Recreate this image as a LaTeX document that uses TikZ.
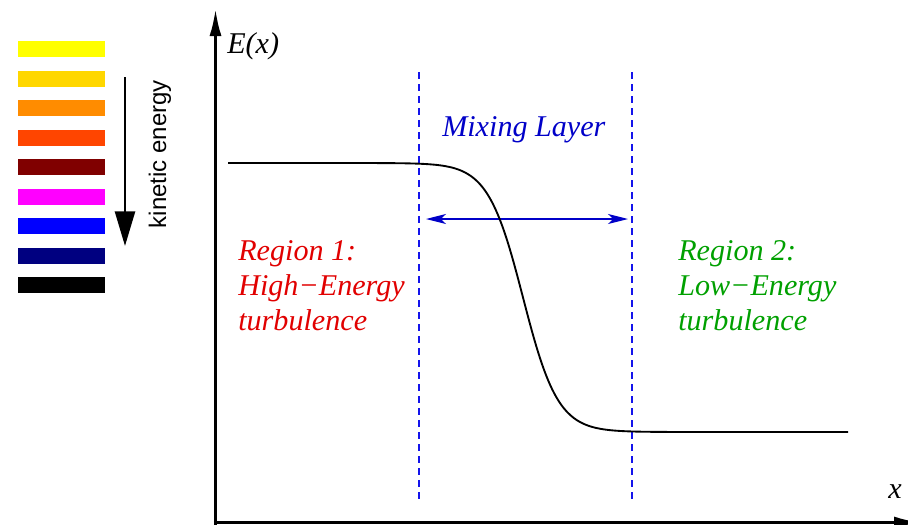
\documentclass[tikz,border=0pt]{standalone}
\usepackage{fontspec}
\setmainfont{Liberation Serif}
\setsansfont{Liberation Sans}
\usetikzlibrary{arrows.meta}
\definecolor{cyellow}{RGB}{255,255,0}
\definecolor{cgold}{RGB}{255,215,0}
\definecolor{corange}{RGB}{255,140,0}
\definecolor{cred}{RGB}{255,69,0}
\definecolor{cmaroon}{RGB}{128,0,0}
\definecolor{cmagenta}{RGB}{255,0,255}
\definecolor{cblue}{RGB}{0,0,255}
\definecolor{cnavy}{RGB}{0,0,128}
\definecolor{regred}{RGB}{225,0,0}
\definecolor{reggreen}{RGB}{0,160,0}
\definecolor{mixblue}{RGB}{0,0,200}
\definecolor{dashblue}{RGB}{20,20,235}
\begin{document}
\begin{tikzpicture}[x=0.75pt,y=-0.75pt,
  lbl/.style={inner sep=0pt,font=\fontsize{22.6}{26}\selectfont\itshape},
  axis/.style={line width=2.6pt,-{Latex[length=21pt,width=9pt]}},
  vline/.style={dashblue,line width=1.3pt,dash pattern=on 5.25pt off 3.75pt},
  bar/.style={draw=none,inner sep=0pt,minimum width=65.25pt,minimum height=12pt}]
\useasboundingbox (0,0) rectangle (908,525);
% colour bars
\foreach \c [count=\i] in {cyellow,cgold,corange,cred,cmaroon,cmagenta,cblue,cnavy,black}
  \node[bar,fill=\c,anchor=north west] (bar\i) at (18,{41+29.5*(\i-1)}) {};
% kinetic energy arrow
\coordinate (ka) at (125,77);
\coordinate (kb) at (125,246);
\draw[line width=2pt,-{Triangle[length=26pt,width=15pt]}] (ka) -- (kb);
\node[inner sep=0pt,rotate=90,anchor=base,font=\sffamily\fontsize{18}{20}\selectfont] (ke) at (166,154) {kinetic energy};
% axes
\coordinate (o) at (215.5,522.5);
\coordinate (ytop) at (215.5,8);
\coordinate (xright) at (922,522.5);
\draw[axis] (215.5,526) -- (ytop);
\draw[axis] (213.8,522.5) -- (xright);
\node[lbl,anchor=base west] (ey) at (227,53) {E(x)};
\node[lbl,anchor=base west] (xl) at (888,498) {x};
% dashed lines
\coordinate (d1t) at (419,72); \coordinate (d1b) at (419,500);
\coordinate (d2t) at (632,72); \coordinate (d2b) at (632,500);
\draw[vline] (d1t) -- (d1b);
\draw[vline] (d2t) -- (d2b);
% mixing layer
\node[lbl,anchor=base west,text=mixblue] (mix) at (442,136) {Mixing Layer};
\coordinate (ma) at (426,219);
\coordinate (mb) at (628,219);
\draw[mixblue,line width=0.9pt,{Stealth[length=15pt,width=7.5pt,inset=4pt]}-{Stealth[length=15pt,width=7.5pt,inset=4pt]}] (ma) -- (mb);
% curve
\draw[line width=1.4pt,smooth,samples=200,domain=228:848] plot (\x,{297.5+134.5*tanh((\x-523)/35)});
% regions
\node[lbl,anchor=base west,text=regred] (r1a) at (238,260) {Region 1:};
\node[lbl,anchor=base west,text=regred] (r1b) at (238,295) {High−Energy};
\node[lbl,anchor=base west,text=regred] (r1c) at (238,330) {turbulence};
\node[lbl,anchor=base west,text=reggreen] (r2a) at (678,260) {Region 2:};
\node[lbl,anchor=base west,text=reggreen] (r2b) at (678,295) {Low−Energy};
\node[lbl,anchor=base west,text=reggreen] (r2c) at (678,330) {turbulence};
\end{tikzpicture}
\end{document}
